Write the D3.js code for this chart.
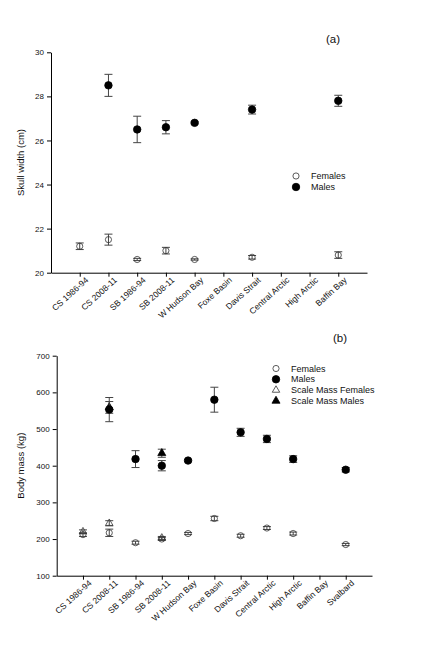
<!DOCTYPE html>
<html>
<head>
<meta charset="utf-8">
<script src="https://cdn.jsdelivr.net/npm/d3@7"></script>
<style>
  body { margin: 0; background: #fff; }
  svg { font-family: "Liberation Sans", Arial, sans-serif; }
</style>
</head>
<body>
<svg id="chart" width="422" height="651"></svg>
<script>
// panel (a) skull width
const sitesA = ["CS 1986-94", "CS 2008-11", "SB 1986-94", "SB 2008-11", "W Hudson Bay",
    "Foxe Basin", "Davis Strait", "Central Arctic", "High Arctic", "Baffin Bay"];
const skullFemales = [21.2, 21.5, 20.6, 21.0, 20.6, null, 20.7, null, null, 20.8];
const skullFemalesErr = [0.15, 0.25, 0.05, 0.15, 0.03, null, 0.08, null, null, 0.15];
const skullMales = [null, 28.5, 26.5, 26.6, 26.8, null, 27.4, null, null, 27.8];
const skullMalesErr = [null, 0.5, 0.6, 0.3, 0.05, null, 0.2, null, null, 0.25];
const skullTicks = [20, 22, 24, 26, 28, 30];

// panel (b) body mass
const sitesB = ["CS 1986-94", "CS 2008-11", "SB 1986-94", "SB 2008-11", "W Hudson Bay",
    "Foxe Basin", "Davis Strait", "Central Arctic", "High Arctic", "Baffin Bay", "Svalbard"];
const massFemales = [212, 217, 190, 200, 215, 256, 209, 230, 215, null, 185];
const massFemalesErr = [5, 10, 4, 4, 3, 6, 4, 4, 4, null, 3];
const massMales = [null, 553, 418, 400, 414, 580, 491, 473, 418, null, 389];
const massMalesErr = [null, 33, 23, 14, 3, 34, 11, 10, 9, null, 6];
const scaleFemales = [220, 243, null, 203, null, null, null, null, null, null, null];
const scaleFemalesErr = [5, 7, null, 4, null, null, null, null, null, null, null];
const scaleMales = [null, 559, null, 434, null, null, null, null, null, null, null];
const scaleMalesErr = [null, 16, null, 11, null, null, null, null, null, null, null];
const massTicks = [100, 200, 300, 400, 500, 600, 700];

const svg = d3.select("#chart");
const errColor = "#444";

function drawPanel(opt) {
    const x = d3.scalePoint()
        .domain(opt.sites)
        .range([opt.left, opt.right])
        .padding(1);
    const y = d3.scaleLinear()
        .domain(opt.domain)
        .range([opt.bottom, opt.top]);

    const g = svg.append("g");

    // axes
    g.append("g")
        .attr("transform", `translate(0,${opt.bottom})`)
        .call(d3.axisBottom(x).tickSize(4).tickSizeOuter(0))
        .call(a => a.select(".domain").attr("stroke", "#000"))
        .call(a => a.selectAll("text")
            .attr("font-size", "8.5px")
            .attr("fill", "#111")
            .attr("text-anchor", "end")
            .attr("transform", "translate(4,3) rotate(-42)")
            .attr("dy", "0.35em")
            .attr("y", 4)
            .attr("x", 0));

    g.append("g")
        .attr("transform", `translate(${opt.left},0)`)
        .call(d3.axisLeft(y).tickValues(opt.ticks).tickSize(4).tickSizeOuter(0))
        .call(a => a.selectAll("text").attr("font-size", "8px").attr("fill", "#111"));

    g.append("text")
        .attr("transform", `translate(${opt.ylabX},${(opt.top + opt.bottom) / 2}) rotate(-90)`)
        .attr("text-anchor", "middle")
        .attr("font-size", "9.5px")
        .attr("fill", "#111")
        .text(opt.ylabel);

    g.append("text")
        .attr("x", opt.tagX)
        .attr("y", opt.tagY)
        .attr("text-anchor", "middle")
        .attr("font-size", "11.5px")
        .attr("fill", "#111")
        .text(opt.tag);

    // series: error bars then symbol
    opt.series.forEach(s => {
        const pts = opt.sites.map((site, i) => ({ site, v: s.values[i], e: s.err[i] }))
            .filter(d => d.v != null);
        const eg = g.append("g").attr("stroke", errColor).attr("stroke-width", 1);
        pts.forEach(d => {
            const cx = x(d.site);
            eg.append("line").attr("x1", cx).attr("x2", cx)
                .attr("y1", y(d.v - d.e)).attr("y2", y(d.v + d.e));
            [d.v - d.e, d.v + d.e].forEach(v => {
                eg.append("line").attr("x1", cx - 4).attr("x2", cx + 4)
                    .attr("y1", y(v)).attr("y2", y(v));
            });
        });
        g.append("g").selectAll("path")
            .data(pts)
            .join("path")
            .attr("transform", d => `translate(${x(d.site)},${y(d.v)})`)
            .attr("d", d3.symbol().type(s.shape).size(s.size))
            .attr("fill", s.filled ? "#000" : "none")
            .attr("stroke", s.filled ? "#000" : "#333")
            .attr("stroke-width", 0.8);
    });

    // legend
    opt.series.slice().sort((a, b) => a.order - b.order).forEach((s, i) => {
        const ly = opt.legY + i * opt.legStep;
        g.append("path")
            .attr("transform", `translate(${opt.legX},${ly})`)
            .attr("d", d3.symbol().type(s.shape).size(s.size))
            .attr("fill", s.filled ? "#000" : "none")
            .attr("stroke", s.filled ? "#000" : "#333")
            .attr("stroke-width", 0.8);
        g.append("text")
            .attr("x", opt.legX + 15)
            .attr("y", ly)
            .attr("dy", "0.35em")
            .attr("font-size", "9px")
            .attr("fill", "#111")
            .text(s.name);
    });
}

drawPanel({
    sites: sitesA, domain: [20, 30], ticks: skullTicks,
    left: 51, right: 367, top: 52.3, bottom: 272.7,
    ylabel: "Skull width (cm)", ylabX: 24, tag: "(a)", tagX: 333, tagY: 43,
    legX: 296, legY: 176, legStep: 11,
    series: [
        { name: "Females", values: skullFemales, err: skullFemalesErr, shape: d3.symbolCircle, size: 30, filled: false, order: 0 },
        { name: "Males", values: skullMales, err: skullMalesErr, shape: d3.symbolCircle, size: 44, filled: true, order: 1 }
    ]
});

drawPanel({
    sites: sitesB, domain: [100, 700], ticks: massTicks,
    left: 56.7, right: 372, top: 355.7, bottom: 575.7,
    ylabel: "Body mass (kg)", ylabX: 24, tag: "(b)", tagX: 340, tagY: 342,
    legX: 276, legY: 368.5, legStep: 10.8,
    series: [
        { name: "Scale Mass Females", values: scaleFemales, err: scaleFemalesErr, shape: d3.symbolTriangle, size: 24, filled: false, order: 2 },
        { name: "Females", values: massFemales, err: massFemalesErr, shape: d3.symbolCircle, size: 30, filled: false, order: 0 },
        { name: "Scale Mass Males", values: scaleMales, err: scaleMalesErr, shape: d3.symbolTriangle, size: 28, filled: true, order: 3 },
        { name: "Males", values: massMales, err: massMalesErr, shape: d3.symbolCircle, size: 44, filled: true, order: 1 }
    ]
});
</script>
</body>
</html>
